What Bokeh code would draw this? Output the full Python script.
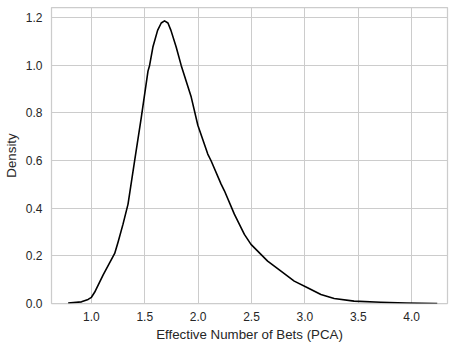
from bokeh.plotting import figure
from bokeh.models import FixedTicker, Range1d, NumeralTickFormatter
from bokeh.embed import file_html
from bokeh.resources import INLINE

# KDE curve
bets = [0.782, 0.907, 0.969, 1.0, 1.03, 1.11, 1.218, 1.25, 1.296, 1.343, 1.405,
        1.467, 1.53, 1.545, 1.576, 1.62, 1.654, 1.685, 1.717, 1.745, 1.794, 1.841,
        1.935, 1.997, 2.09, 2.121, 2.215, 2.246, 2.339, 2.433, 2.495, 2.651, 2.776,
        2.9, 3.025, 3.15, 3.274, 3.46, 3.71, 3.95, 4.24]
density = [0.002, 0.007, 0.017, 0.026, 0.047, 0.12, 0.21, 0.258, 0.333, 0.417, 0.599,
           0.78, 0.975, 0.999, 1.076, 1.146, 1.177, 1.186, 1.177, 1.146, 1.076, 0.999,
           0.866, 0.748, 0.627, 0.599, 0.501, 0.473, 0.375, 0.29, 0.248, 0.178, 0.136,
           0.094, 0.066, 0.038, 0.021, 0.01, 0.005, 0.002, 0.0]
x_ticks = [1.0, 1.5, 2.0, 2.5, 3.0, 3.5, 4.0]
y_ticks = [0.0, 0.2, 0.4, 0.6, 0.8, 1.0, 1.2]

TEXT = "#262626"
GRID = "#cccccc"
FONT = "Liberation Sans"

p = figure(width=454, height=347, output_backend="svg", toolbar_location=None,
           x_range=Range1d(0.626, 4.336), y_range=Range1d(0.0, 1.242),
           min_border_left=50, min_border_right=7, min_border_top=7, min_border_bottom=44)
p.background_fill_color = "white"
p.border_fill_color = "white"
p.outline_line_color = GRID
p.outline_line_width = 1.25

p.line(bets, density, line_color="black", line_width=1.6, line_join="round")

for ax in (p.xaxis[0], p.yaxis[0]):
    ax.axis_line_color = None
    ax.major_tick_line_color = None
    ax.minor_tick_line_color = None
    ax.major_tick_out = 0
    ax.major_tick_in = 0
    ax.minor_tick_out = 0
    ax.major_label_text_font = FONT
    ax.major_label_text_font_size = "12px"
    ax.major_label_text_color = TEXT
    ax.axis_label_text_font = FONT
    ax.axis_label_text_font_size = "13.3px"
    ax.axis_label_text_font_style = "normal"
    ax.axis_label_text_color = TEXT
    ax.formatter = NumeralTickFormatter(format="0.0")

p.xaxis[0].ticker = FixedTicker(ticks=x_ticks)
p.yaxis[0].ticker = FixedTicker(ticks=y_ticks)
p.xaxis[0].axis_label = "Effective Number of Bets (PCA)"
p.yaxis[0].axis_label = "Density"
p.xaxis[0].major_label_standoff = 8
p.yaxis[0].major_label_standoff = 9
p.xaxis[0].axis_label_standoff = 3
p.yaxis[0].axis_label_standoff = 4

p.xgrid.grid_line_color = GRID
p.ygrid.grid_line_color = GRID
p.xgrid.grid_line_width = 1
p.ygrid.grid_line_width = 1

open("out.html", "w").write(file_html(p, INLINE))
